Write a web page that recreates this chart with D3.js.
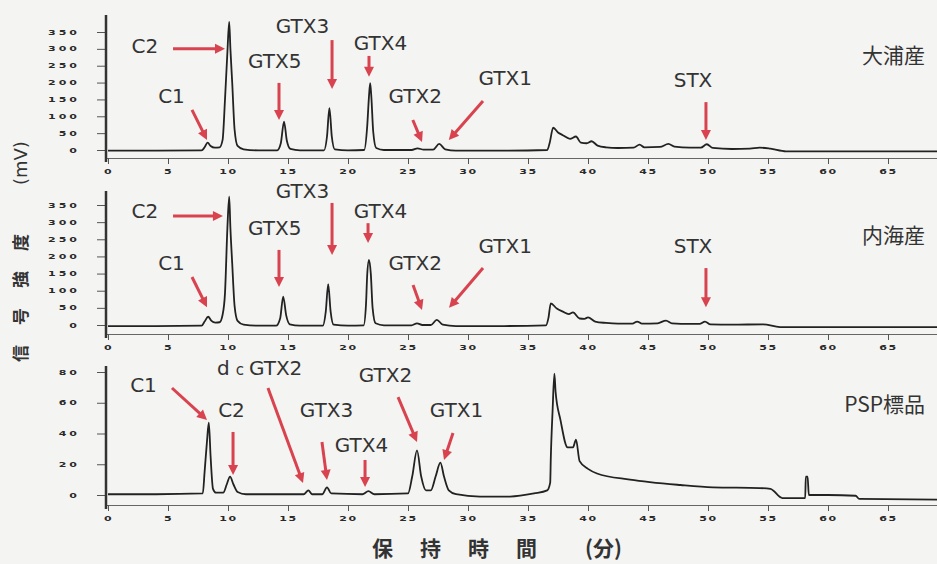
<!DOCTYPE html>
<html>
<head>
<meta charset="utf-8">
<script src="https://cdn.jsdelivr.net/npm/d3@7"></script>
<style>
  body { margin: 0; background: #f4f4f2; }
  svg { display: block; }
</style>
</head>
<body>
<div id="chart"></div>
<script>
// tick values
const xTicks = [0, 5, 10, 15, 20, 25, 30, 35, 40, 45, 50, 55, 60, 65];
const yTicksSample = [0, 50, 100, 150, 200, 250, 300, 350];
const yMinorSample = [25, 75, 125, 175, 225, 275, 325, 375];
const yTicksStd = [0, 20, 40, 60, 80];
const yMinorStd = [10, 30, 50, 70];
const panelNames = ['大浦産', '内海産', 'PSP標品'];

// chromatogram traces: [retention time (min), signal (mV)]
const traceOura = [
  [0,-2],[4,-2],[7.8,-1],[8.05,8],[8.3,22],[8.55,12],[8.9,7],[9.3,8],[9.55,30],[9.75,150],
  [9.95,290],[10.1,380],[10.2,300],[10.35,200],[10.55,60],[10.8,12],[11.3,2],[12.5,-1],
  [14.1,-1],[14.4,20],[14.67,84],[14.9,28],[15.2,3],[16,-1],[18,-1],[18.25,40],[18.45,124],
  [18.65,40],[18.9,2],[20,-1],[21.35,0],[21.6,70],[21.75,160],[21.85,198],[21.95,155],
  [22.1,55],[22.35,6],[23,0],[25.3,0],[25.8,5],[26.3,1],[27.1,1],[27.6,18],[28.1,2],[29,-2],
  [33,-2],[36.6,0],[36.8,20],[37.1,66],[37.5,52],[37.9,44],[38.5,33],[39,40],[39.4,22],
  [39.9,20],[40.3,26],[40.8,13],[41.5,8],[42.5,6],[43.8,7],[44.3,16],[44.7,8],[46,9],
  [46.7,18],[47.2,10],[48.5,7],[49.4,7],[49.9,17],[50.4,6],[52,3],[53.5,4],[54.3,7],
  [55.2,4],[56.5,-4],[60,-4],[69.5,-4]
];
const traceNaikai = [
  [0,-3],[4,-3],[7.8,-2],[8.05,10],[8.35,24],[8.6,13],[8.95,7],[9.3,8],[9.55,30],[9.75,93],
  [9.95,283],[10.1,374],[10.2,283],[10.35,180],[10.55,55],[10.8,12],[11.3,1],[12.5,-2],
  [14,-2],[14.35,20],[14.6,83],[14.85,28],[15.15,2],[16,-2],[17.9,-2],[18.15,40],[18.35,119],
  [18.55,40],[18.8,1],[20,-2],[21.3,-1],[21.5,60],[21.6,146],[21.75,190],[21.9,150],
  [22.05,50],[22.3,5],[23,-1],[25.3,-1],[25.75,5],[26.2,0],[26.9,0],[27.4,15],[27.9,1],
  [29,-3],[33,-3],[36.5,-1],[36.7,20],[36.9,63],[37.4,48],[37.9,39],[38.4,32],[38.75,37],
  [39.3,19],[39.7,18],[40,22],[40.6,10],[41.5,6],[42.5,4],[43.7,4],[44.1,10],[44.5,4],
  [45.8,5],[46.5,13],[47,5],[48.5,3],[49.3,3],[49.75,10],[50.2,2],[52,1],[54.6,2],
  [56,-6],[60,-6],[69.5,-6]
];
const tracePsp = [
  [0,0.5],[4,0.5],[7.9,1],[8.05,15],[8.25,35],[8.4,47],[8.55,25],[8.75,4],[9,1.5],
  [9.6,1.5],[9.9,7],[10.17,12],[10.45,7],[10.8,2],[11.5,0.5],[16.3,0.5],[16.7,3],[17,0.5],
  [17.85,0.5],[18.25,5],[18.6,1],[21.2,0.5],[21.7,2.5],[22.2,0.5],[25,1],[25.35,12],
  [25.75,29],[26.1,12],[26.5,3],[26.9,3],[27.3,12],[27.7,21],[28,12],[28.4,3],[29,0.5],
  [31,-1],[33.5,-1],[35.5,1],[36.6,3],[36.85,8],[36.9,24],[37.05,55],[37.2,79],[37.3,67],
  [37.7,49],[38.3,31],[38.75,31],[39,36],[39.3,22],[40,17],[40.75,14],[43.5,10],[47.7,6.5],
  [50.4,5],[54.3,4.5],[55.2,4],[56.2,-2],[58.1,-2],[58.15,12],[58.3,12],[58.4,0],[60,0],
  [62.3,-0.5],[62.6,-2.5],[69.5,-3]
];

// peak annotations in data space: label at [t, mV], arrow from -> to
const notesOura = [
  {text: 'C2',   at: [3.08, 288],  from: [5.42, 300],  to: [9.75, 300]},
  {text: 'C1',   at: [5.29, 139],  from: [7.0, 119],   to: [8.25, 30]},
  {text: 'GTX5', at: [13.9, 243],  from: [14.25, 199], to: [14.25, 89]},
  {text: 'GTX3', at: [16.2, 347],  from: [18.67, 326], to: [18.67, 181]},
  {text: 'GTX4', at: [22.7, 297],  from: [21.75, 279], to: [21.75, 217]},
  {text: 'GTX2', at: [25.6, 139],  from: [25.4, 89],   to: [26.17, 24]},
  {text: 'GTX1', at: [33.1, 193],  from: [31.25, 145], to: [28.4, 30]},
  {text: 'STX',  at: [48.75, 187], from: [49.83, 142], to: [49.83, 30]}
];
const notesNaikai = [
  {text: 'C2',   at: [3.08, 312],  from: [5.42, 318],  to: [9.58, 318]},
  {text: 'C1',   at: [5.29, 160],  from: [7.0, 140],   to: [8.25, 52]},
  {text: 'GTX5', at: [13.9, 262],  from: [14.25, 219], to: [14.25, 111]},
  {text: 'GTX3', at: [16.2, 370],  from: [18.67, 356], to: [18.67, 204]},
  {text: 'GTX4', at: [22.7, 312],  from: [21.67, 297], to: [21.67, 239]},
  {text: 'GTX2', at: [25.6, 160],  from: [25.42, 117], to: [26.17, 44]},
  {text: 'GTX1', at: [33.1, 210],  from: [31.25, 166], to: [28.42, 50]},
  {text: 'STX',  at: [48.75, 210], from: [49.83, 166], to: [49.83, 52]}
];
const notesPsp = [
  {text: 'C1',     at: [2.96, 67],   from: [5.33, 69.6],  to: [8.25, 48.8]},
  {text: 'C2',     at: [10.29, 50.7], from: [10.42, 41],  to: [10.42, 13]},
  {text: 'dcGTX2', at: [9.08, 78],   from: [13.33, 69.6], to: [16.25, 7.8], anchor: 'start'},
  {text: 'GTX3',   at: [18.21, 50.7], from: [17.83, 34.5], to: [18.25, 9.8]},
  {text: 'GTX4',   at: [21.13, 28],  from: [21.42, 22.8], to: [21.42, 5.2]},
  {text: 'GTX2',   at: [23.13, 73.5], from: [24.17, 63.7], to: [25.75, 34.5]},
  {text: 'GTX1',   at: [29.04, 50.7], from: [28.75, 40.3], to: [28.0, 22.8]}
];

const W = 937, H = 564;
const RED = '#d8434f', INK = '#222';

const svg = d3.select('#chart').append('svg')
  .attr('width', W).attr('height', H);
svg.append('rect').attr('width', W).attr('height', H).attr('fill', '#f4f4f2');

const x = d3.scaleLinear().domain([0, 65]).range([108, 888]);
const xAxisScale = x.copy().domain([x.invert(106), x.invert(W)]).range([106, W]);

const panels = [
  {name: panelNames[0], trace: traceOura, notes: notesOura, ticks: yTicksSample, minor: yMinorSample,
   domain: [0, 350], range: [150, 32], top: 15, axisY: 158, nameY: 63},
  {name: panelNames[1], trace: traceNaikai, notes: notesNaikai, ticks: yTicksSample, minor: yMinorSample,
   domain: [0, 350], range: [325, 205], top: 191, axisY: 334, nameY: 243},
  {name: panelNames[2], trace: tracePsp, notes: notesPsp, ticks: yTicksStd, minor: yMinorStd,
   domain: [0, 80], range: [495, 372], top: 366, axisY: 505, nameY: 412}
];

function arrow(g, x1, y1, x2, y2) {
  const dx = x2 - x1, dy = y2 - y1, len = Math.hypot(dx, dy);
  const ux = dx / len, uy = dy / len, hl = 10, hw = 5;
  const bx = x2 - ux * hl, by = y2 - uy * hl;
  g.append('line')
    .attr('x1', x1).attr('y1', y1).attr('x2', bx + ux).attr('y2', by + uy)
    .attr('stroke', RED).attr('stroke-width', 3);
  g.append('path')
    .attr('d', `M${x2},${y2}L${bx - uy * hw},${by + ux * hw}L${bx + uy * hw},${by - ux * hw}Z`)
    .attr('fill', RED);
}

panels.forEach(p => {
  const y = d3.scaleLinear().domain(p.domain).range(p.range);
  const g = svg.append('g');

  // x axis: minor then major ticks
  const xg = g.append('g').attr('transform', `translate(0,${p.axisY})`);
  xg.call(d3.axisBottom(xAxisScale).tickValues(d3.range(0, 70)).tickFormat('').tickSize(3).tickSizeOuter(0));
  xg.call(d3.axisBottom(xAxisScale).tickValues(xTicks).tickSize(6).tickSizeOuter(0));
  xg.selectAll('path.domain').attr('stroke', '#666');
  xg.selectAll('line').attr('stroke', '#555');
  xg.selectAll('text')
    .attr('y', 27).attr('dy', 0)
    .attr('transform', 'scale(1,0.6)')
    .style('font-family', 'DejaVu Sans').style('font-weight', 'bold')
    .style('font-size', '11px').style('letter-spacing', '1.5px')
    .attr('fill', '#2a2a2a');

  // y axis
  const yg = g.append('g').attr('transform', 'translate(106,0)');
  yg.call(d3.axisLeft(y).tickValues(p.minor.filter(v => v <= y.invert(p.top))).tickFormat('').tickSize(5));
  yg.call(d3.axisLeft(y).tickValues(p.ticks).tickSize(9).tickPadding(17));
  yg.selectAll('path.domain').remove();
  yg.selectAll('line').attr('stroke', '#555');
  yg.selectAll('text')
    .attr('transform', 'scale(1,0.6)')
    .style('font-family', 'DejaVu Sans').style('font-weight', 'bold')
    .style('font-size', '11px').style('letter-spacing', '3px')
    .attr('fill', '#2a2a2a');
  g.append('line')
    .attr('x1', 106).attr('x2', 106).attr('y1', p.top).attr('y2', p.axisY + 4)
    .attr('stroke', '#333').attr('stroke-width', 2.5);

  // trace
  g.append('path')
    .datum(p.trace)
    .attr('fill', 'none')
    .attr('stroke', INK)
    .attr('stroke-width', 1.8)
    .attr('stroke-linejoin', 'round')
    .attr('d', d3.line().x(d => x(d[0])).y(d => y(d[1])).curve(d3.curveMonotoneX));

  // annotations
  p.notes.forEach(n => {
    arrow(g, x(n.from[0]), y(n.from[1]), x(n.to[0]), y(n.to[1]));
    const t = g.append('text')
      .attr('x', x(n.at[0])).attr('y', y(n.at[1]))
      .attr('text-anchor', n.anchor || 'middle')
      .style('font-family', 'DejaVu Sans').style('font-size', '20px')
      .attr('fill', '#333');
    if (n.text === 'dcGTX2') {
      t.append('tspan').text('d');
      t.append('tspan').attr('dx', 6).style('font-size', '15px').text('c');
      t.append('tspan').attr('dx', 5).text('GTX2');
    } else {
      t.text(n.text);
    }
  });

  g.append('text')
    .attr('x', 925).attr('y', p.nameY)
    .attr('text-anchor', 'end')
    .style('font-family', 'Noto Sans CJK JP').style('font-size', '21px')
    .attr('fill', '#333')
    .text(p.name);
});

// axis titles
const yt = svg.append('g').attr('transform', 'translate(20,0) rotate(-90)');
yt.append('text')
  .attr('x', -362).attr('y', 7)
  .style('font-family', 'Noto Sans CJK JP').style('font-weight', 'bold')
  .style('font-size', '17px').style('letter-spacing', '20px')
  .attr('fill', '#333')
  .text('信号強度');
yt.append('text')
  .attr('x', -185).attr('y', 7)
  .style('font-family', 'DejaVu Sans')
  .style('font-size', '18px')
  .attr('fill', '#333')
  .text('(mV)');

svg.append('text')
  .attr('x', 372).attr('y', 556)
  .style('font-family', 'Noto Sans CJK JP').style('font-weight', 'bold')
  .style('font-size', '21px').style('letter-spacing', '27px')
  .attr('fill', '#333')
  .text('保持時間');
svg.append('text')
  .attr('x', 585).attr('y', 556)
  .style('font-family', 'Noto Sans CJK JP').style('font-weight', 'bold')
  .style('font-size', '21px')
  .attr('fill', '#333')
  .text('(分)');
</script>
</body>
</html>
